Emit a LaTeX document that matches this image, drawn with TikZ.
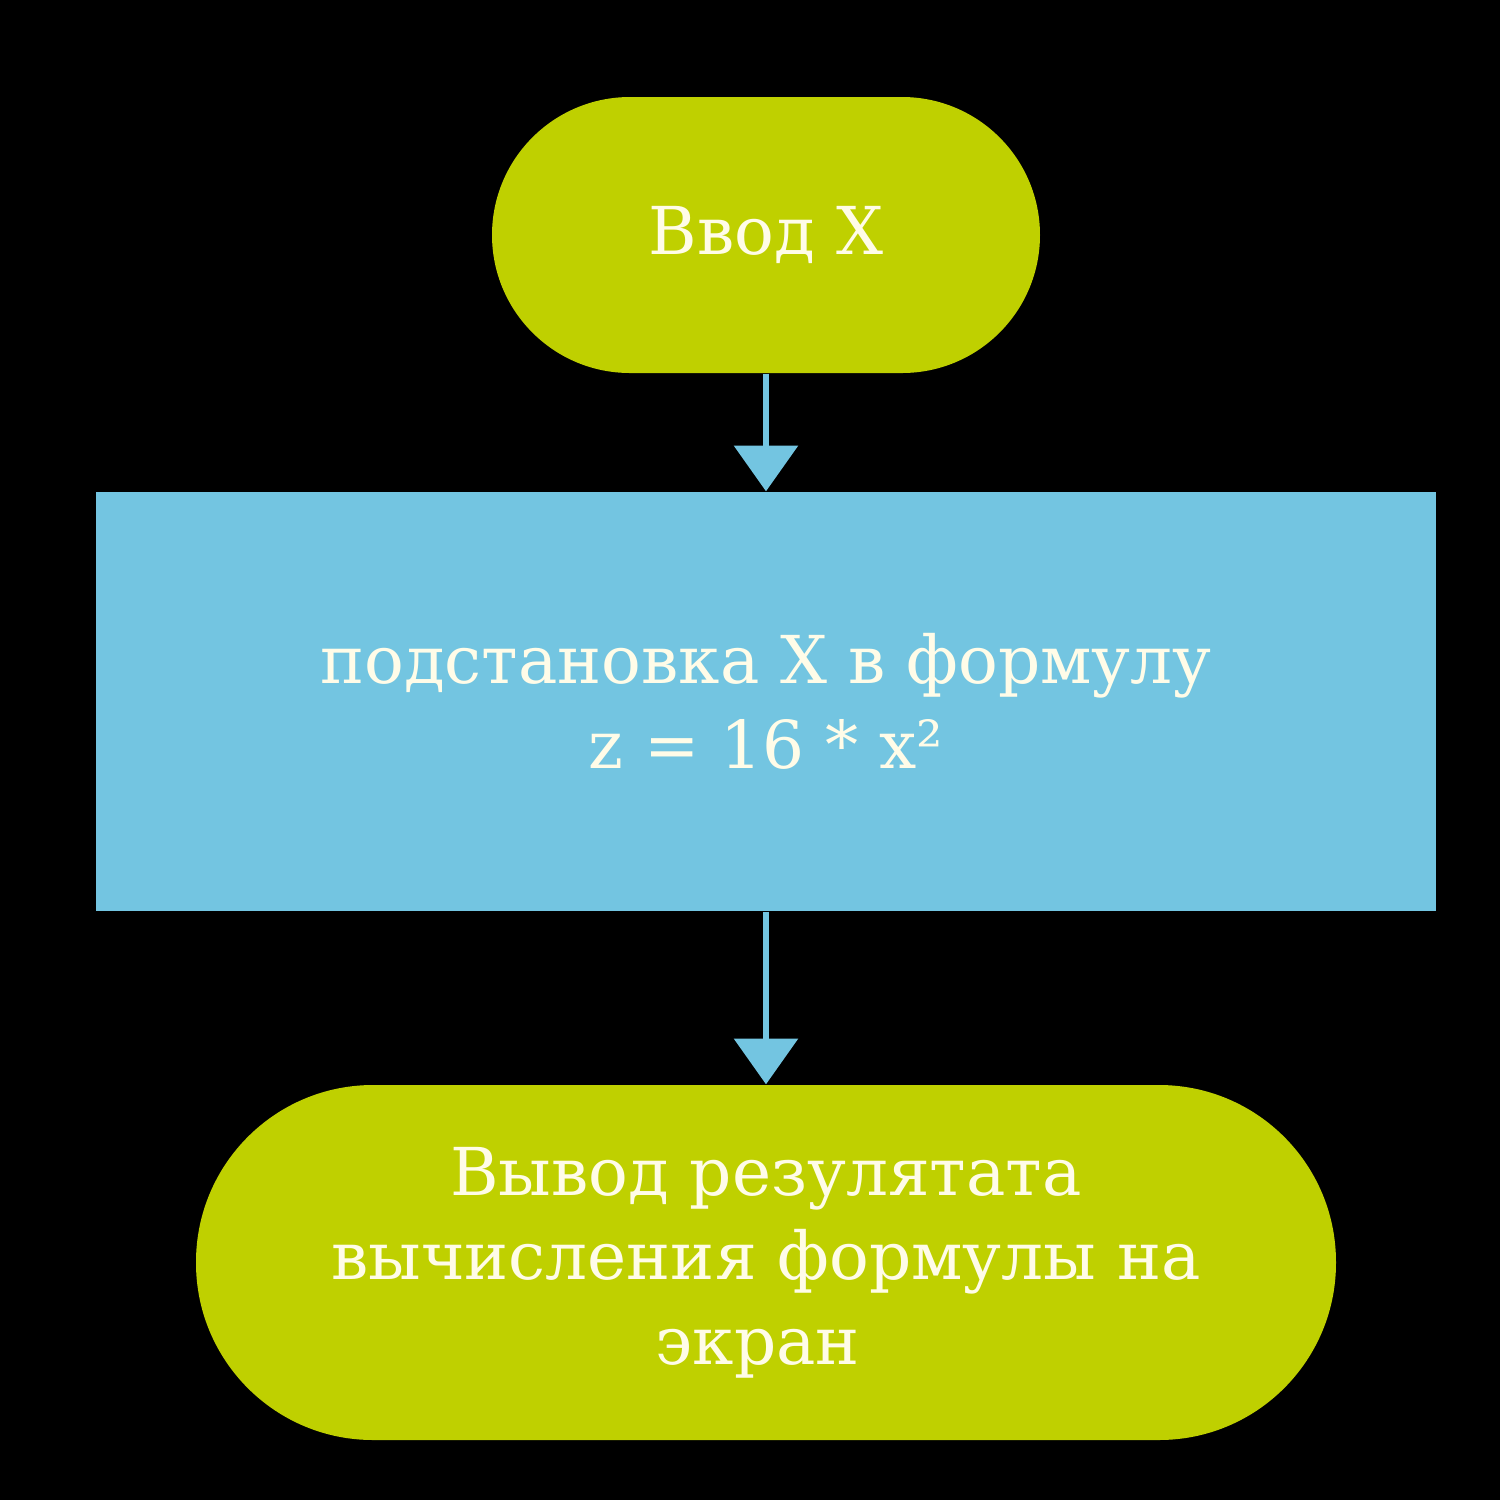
\documentclass[tikz,border=0pt]{standalone}
\usepackage{fontspec}
\setmainfont{DejaVu Serif}
\usetikzlibrary{arrows.meta}
\definecolor{termgreen}{RGB}{191,208,0}
\definecolor{procblue}{RGB}{115,197,225}
\definecolor{textcream}{RGB}{255,252,232}
\begin{document}
\begin{tikzpicture}[
		every node/.style={text=textcream, align=center, inner sep=0pt,
			font=\fontsize{18.8}{24}\selectfont},
		terminal/.style={fill=termgreen, rounded corners=#1},
		process/.style={fill=procblue},
		flow/.style={draw=procblue, line width=1.5pt,
			-{Triangle[width=18pt, length=13pt]}}
	]
			\fill[black] (0,0) rectangle (15,-15);
			\useasboundingbox (0,0) rectangle (15,-15);
			\node[terminal=1.38cm, minimum width=5.48cm, minimum height=2.76cm] (start) at (7.66,-2.35) {Ввод X};
			\node[process, minimum width=13.4cm, minimum height=4.19cm] (calc) at (7.66,-7.015) {подстановка X в формулу\\z = 16 * x²};
			\node[terminal=1.77cm, minimum width=11.4cm, minimum height=3.55cm] (stop) at (7.66,-12.625) {Вывод резулятата\\вычисления формулы на\\экран\hspace*{0.16cm}};
			\draw[flow] (start.south) -- (calc.north);
			\draw[flow] (calc.south) -- (stop.north);
		\end{tikzpicture}
\end{document}
